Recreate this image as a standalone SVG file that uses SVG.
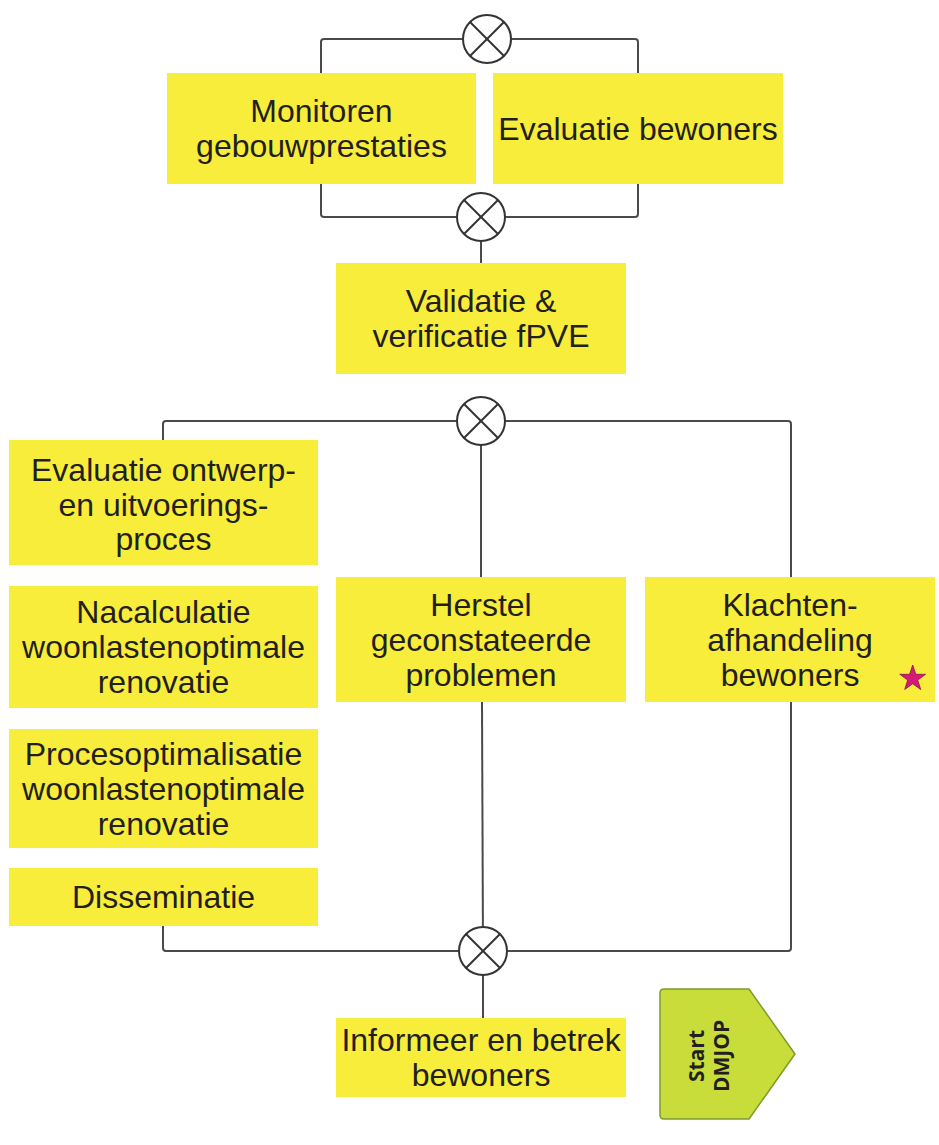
<svg xmlns="http://www.w3.org/2000/svg" width="939" height="1145" viewBox="0 0 939 1145">
  <style>
    .box { fill: #f7ed3a; }
    .lbl { font-family: "Liberation Sans", Arial, sans-serif; font-size: 32px; fill: #231f20; text-anchor: middle; }
    .wire { fill: none; stroke: #4a4a4a; stroke-width: 2; stroke-linejoin: round; }
    .gate { fill: #ffffff; stroke: #333333; stroke-width: 2; }
    .gate-x { stroke: #333333; stroke-width: 2; }
    .start { fill: #c8dc3a; stroke: #7f9b2c; stroke-width: 1.5; stroke-linejoin: round; }
    .start-lbl { font-family: "Open Sans", "DejaVu Sans", sans-serif; font-weight: 700; font-size: 21px; fill: #231f20; text-anchor: middle; }
  </style>
  <defs>
    <!-- XOR-style junction: circle with a diagonal cross -->
    <g id="junction">
      <circle class="gate" cx="0" cy="0" r="24"/>
      <line class="gate-x" x1="-17" y1="-17" x2="17" y2="17"/>
      <line class="gate-x" x1="17" y1="-17" x2="-17" y2="17"/>
    </g>
  </defs>

  <rect width="939" height="1145" fill="#ffffff"/>

  <!-- connectors -->
  <g id="connectors">
    <path class="wire" d="M321,73 V42 Q321,39 324,39 H635 Q638,39 638,42 V73"/>
    <path class="wire" d="M321,184 V214 Q321,217 324,217 H635 Q638,217 638,214 V184"/>
    <path class="wire" d="M481,217 V263"/>
    <path class="wire" d="M163,440 V424 Q163,421 166,421 H788 Q791,421 791,424 V577"/>
    <path class="wire" d="M481,421 V577"/>
    <path class="wire" d="M482,702 L483,951"/>
    <path class="wire" d="M163,926 V948 Q163,951 166,951 H788 Q791,951 791,948 V702"/>
    <path class="wire" d="M483,951 V1018"/>
    <use href="#junction" x="487" y="39"/>
    <use href="#junction" x="481" y="217"/>
    <use href="#junction" x="481" y="421"/>
    <use href="#junction" x="483" y="951"/>
  </g>

  <g id="monitoren">
    <rect class="box" x="167" y="73" width="309" height="111"/>
    <text class="lbl" x="321.5" y="122">Monitoren</text>
    <text class="lbl" x="321.5" y="157">gebouwprestaties</text>
  </g>

  <g id="evaluatie-bewoners">
    <rect class="box" x="493" y="73" width="290" height="111"/>
    <text class="lbl" x="638" y="140">Evaluatie bewoners</text>
  </g>

  <g id="validatie">
    <rect class="box" x="336" y="263" width="290" height="111"/>
    <text class="lbl" x="481" y="312">Validatie &amp;</text>
    <text class="lbl" x="481" y="347">verificatie fPVE</text>
  </g>

  <g id="evaluatie-ontwerp">
    <rect class="box" x="9" y="440" width="309" height="125"/>
    <text class="lbl" x="163.5" y="481">Evaluatie ontwerp-</text>
    <text class="lbl" x="163.5" y="516">en uitvoerings-</text>
    <text class="lbl" x="163.5" y="550">proces</text>
  </g>

  <g id="nacalculatie">
    <rect class="box" x="9" y="586" width="309" height="122"/>
    <text class="lbl" x="163.5" y="623">Nacalculatie</text>
    <text class="lbl" x="163.5" y="658">woonlastenoptimale</text>
    <text class="lbl" x="163.5" y="693">renovatie</text>
  </g>

  <g id="procesoptimalisatie">
    <rect class="box" x="9" y="729" width="309" height="119"/>
    <text class="lbl" x="163.5" y="765">Procesoptimalisatie</text>
    <text class="lbl" x="163.5" y="800">woonlastenoptimale</text>
    <text class="lbl" x="163.5" y="835">renovatie</text>
  </g>

  <g id="disseminatie">
    <rect class="box" x="9" y="868" width="309" height="58"/>
    <text class="lbl" x="163.5" y="908">Disseminatie</text>
  </g>

  <g id="herstel">
    <rect class="box" x="336" y="577" width="290" height="125"/>
    <text class="lbl" x="481" y="616">Herstel</text>
    <text class="lbl" x="481" y="651">geconstateerde</text>
    <text class="lbl" x="481" y="686">problemen</text>
  </g>

  <g id="klachten">
    <rect class="box" x="645" y="577" width="290" height="125"/>
    <text class="lbl" x="790" y="616">Klachten-</text>
    <text class="lbl" x="790" y="651">afhandeling</text>
    <text class="lbl" x="790" y="686">bewoners</text>
    <polygon fill="#d6187a" stroke="#8a1050" stroke-width="0.8"
      points="912.7,665 915.8,674.3 925.6,674.3 917.7,680.1 920.7,689.5 912.7,683.7 904.7,689.5 907.7,680.1 899.8,674.3 909.6,674.3"/>
  </g>

  <g id="informeer">
    <rect class="box" x="336" y="1018" width="290" height="79"/>
    <text class="lbl" x="481" y="1051">Informeer en betrek</text>
    <text class="lbl" x="481" y="1086">bewoners</text>
  </g>

  <g id="start-dmjop">
    <path class="start" d="M664,989 H749 L795,1054 L749,1119 H664 Q660,1119 660,1115 V993 Q660,989 664,989 Z"/>
    <text class="start-lbl" transform="translate(704,1056) rotate(-90)">Start</text>
    <text class="start-lbl" transform="translate(729,1056) rotate(-90)">DMJOP</text>
  </g>
</svg>
